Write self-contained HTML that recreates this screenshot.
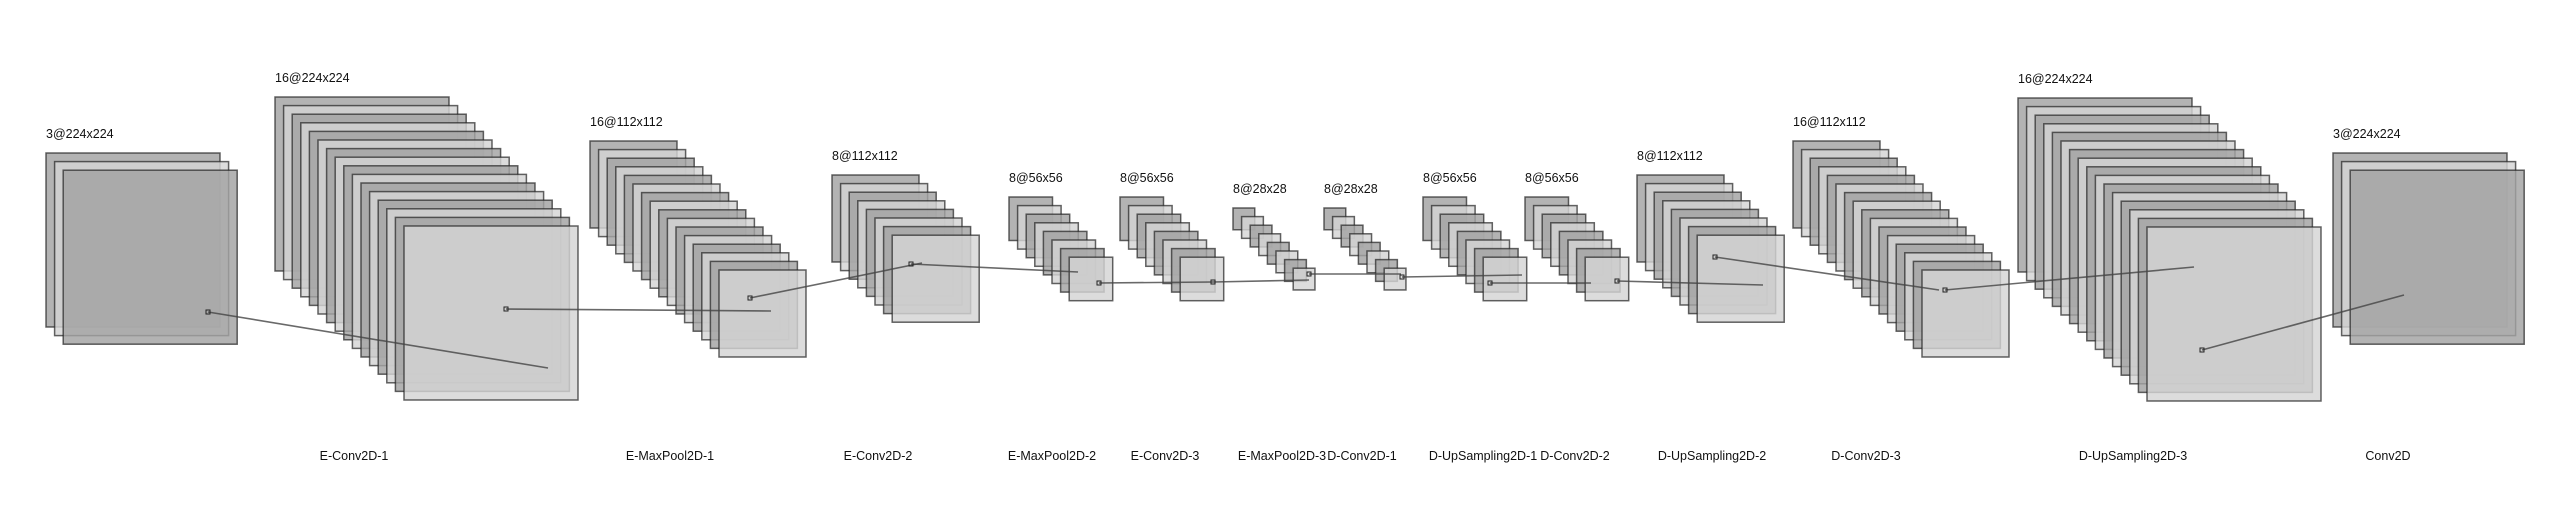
<!DOCTYPE html>
<html><head><meta charset="utf-8"><style>
html,body{margin:0;padding:0;background:#fff;}
svg{display:block;font-family:"Liberation Sans",Arial,sans-serif;}
</style></head><body>
<svg id="c" width="2556" height="517" viewBox="0 0 2556 517" xmlns="http://www.w3.org/2000/svg"></svg>
<script>
const layerNames = ["","E-Conv2D-1","E-MaxPool2D-1","E-Conv2D-2","E-MaxPool2D-2","E-Conv2D-3","E-MaxPool2D-3","D-Conv2D-1","D-UpSampling2D-1","D-Conv2D-2","D-UpSampling2D-2","D-Conv2D-3","D-UpSampling2D-3","Conv2D"];
const depths = [3,16,16,8,8,8,8,8,8,8,8,16,16,3];
const spatial = [224,224,112,112,56,56,28,28,56,56,112,112,224,224];
// layout (pixel) positions of each block's first map
const blockX = [46,275,590,832,1009,1120,1233,1324,1423,1525,1637,1793,2018,2333];
const blockY = [153,97,141,175,197,197,208,208,197,197,175,141,98,153];
const nameX = [0,354,670,878,1052,1165,1282,1362,1483,1575,1712,1866,2133,2388];
// connection lines: [fromX,fromY,toX,toY]
const links = [[208,312,548,368],[506,309,771,311],[750,298,922,263],[911,264,1078,272],[1099,283,1213,282],[1213,282,1309,280],[1309,274,1401,274],[1402,277,1522,275],[1490,283,1591,283],[1617,281,1763,285],[1715,257,1939,290],[1945,290,2194,267],[2202,350,2404,295]];

const svg = document.getElementById('c');
const NS = 'http://www.w3.org/2000/svg';
const scale = 174/224, step = 8.6;
function mk(tag, attrs){const e=document.createElementNS(NS,tag);for(const k in attrs)e.setAttribute(k,attrs[k]);return e;}

for(let b=0;b<depths.length;b++){
  const g = mk('g',{});
  
  
  const s = spatial[b]*scale;
  for(let i=0;i<depths[b];i++){
    const r = mk('rect',{x:blockX[b]+i*step,y:blockY[b]+i*step,width:s,height:s,
      fill:(i%2===0)?'#a2a2a2':'#d4d4d4','fill-opacity':0.82,stroke:'#222','stroke-opacity':0.7,'stroke-width':1.5});
    
    
    g.appendChild(r);
  }
  svg.appendChild(g);
  const t = mk('text',{x:blockX[b],y:blockY[b]-15,'font-size':12.5,fill:'#111'});
  t.textContent = depths[b]+'@'+spatial[b]+'x'+spatial[b];
  
  
  svg.appendChild(t);
  if(layerNames[b]){
    const n = mk('text',{x:nameX[b],y:460,'font-size':12.5,'text-anchor':'middle',fill:'#111'});
    n.textContent = layerNames[b];
    
    
    svg.appendChild(n);
  }
}
for(const L of links){
  const l = mk('line',{x1:L[0],y1:L[1],x2:L[2],y2:L[3],stroke:'#444','stroke-width':1.6,'stroke-opacity':0.8});
  
  
  svg.appendChild(l);
  const m = mk('rect',{x:L[0]-2,y:L[1]-2,width:4,height:4,fill:'none',stroke:'#222','stroke-width':1});
  
  
  svg.appendChild(m);
}
</script>
</body></html>
